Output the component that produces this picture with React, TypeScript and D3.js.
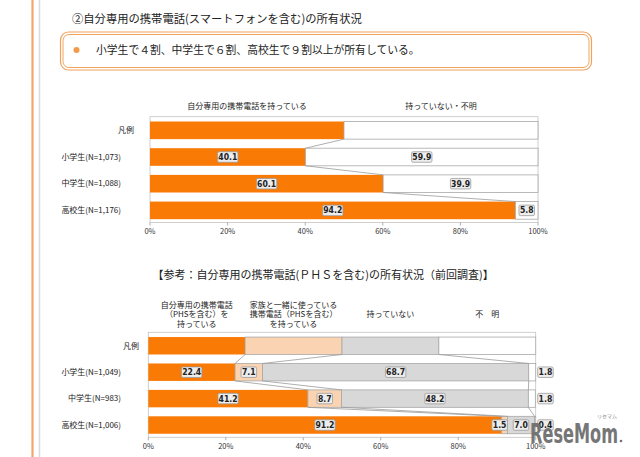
import React from "react";
import * as d3 from "d3";

const W = 640;
const H = 457;

const pageTitle = "②自分専用の携帯電話(スマートフォンを含む)の所有状況";
const summaryText = "小学生で４割、中学生で６割、高校生で９割以上が所有している。";

// Chart 1
const cats1 = ["凡例", "小学生(N=1,073)", "中学生(N=1,088)", "高校生(N=1,176)"];
const own1 = [50, 40.1, 60.1, 94.2];
const notOwn1 = [50, 59.9, 39.9, 5.8];
const legend1 = ["自分専用の携帯電話を持っている", "持っていない・不明"];

// Chart 2
const chart2Title = "【参考：自分専用の携帯電話(ＰＨＳを含む)の所有状況（前回調査)】";
const cats2 = ["凡例", "小学生(N=1,049)", "中学生(N=983)", "高校生(N=1,006)"];
const personal2 = [25, 22.4, 41.2, 91.2];
const shared2 = [25, 7.1, 8.7, 1.5];
const none2 = [25, 68.7, 48.2, 7.0];
const unknown2 = [25, 1.8, 1.8, 0.4];
const legend2: string[][] = [
  ["自分専用の携帯電話", "（PHSを含む）を", "持っている"],
  ["家族と一緒に使っている", "携帯電話（PHSを含む）", "を持っている"],
  ["持っていない"],
  ["不　明"],
];

const ticks = [0, 20, 40, 60, 80, 100];
const tickLabels = ["0%", "20%", "40%", "60%", "80%", "100%"];

const ORANGE = "#F97A05";
const PEACH = "#FAD3B2";
const GRAY = "#D8D8D8";
const WHITE = "#FFFFFF";
const FONT = "'Noto Sans CJK JP', 'Noto Sans', sans-serif";

function textW(s: string, fs: number) {
  let w = 0;
  for (const c of s) w += c === "." ? fs * 0.28 : fs * 0.56;
  return w;
}

function ValueLabel({ cx, cy, v, anchorRight }: { cx: number; cy: number; v: number; anchorRight?: boolean }) {
  const s = v.toFixed(1);
  const fs = 8.6;
  const bw = textW(s, fs) + 3.5;
  const bh = 10.5;
  const x = anchorRight ? cx - bw : cx - bw / 2;
  return (
    <g>
      <rect x={x} y={cy - bh / 2} width={bw} height={bh} rx={1.5} fill="#ededed" stroke="#9c9c9c" strokeWidth={0.8} />
      <text x={x + bw / 2} y={cy} dy="0.35em" textAnchor="middle" fontSize={fs} fontWeight={700} fill="#222" fontFamily="'DejaVu Sans Condensed', 'DejaVu Sans', sans-serif">
        {s}
      </text>
    </g>
  );
}

function Axis({ x, yBottom }: { x: d3.ScaleLinear<number, number>; yBottom: number }) {
  return (
    <g>
      {ticks.map((t, i) => (
        <g key={t}>
          <line x1={x(t)} x2={x(t)} y1={yBottom} y2={yBottom + 3} stroke="#999" strokeWidth={0.8} />
          <text x={x(t)} y={yBottom + 9} dy="0.35em" textAnchor="middle" fontSize={7.5} fill="#333" fontFamily={FONT}>
            {tickLabels[i]}
          </text>
        </g>
      ))}
    </g>
  );
}

export default function App() {
  // Chart 1 scales
  const x1 = d3.scaleLinear().domain([0, 100]).range([150, 538]);
  const y1 = d3.scaleBand<string>().domain(cats1).range([116.7, 224]).paddingInner(0.34).paddingOuter(0.18);
  const bw1 = y1.bandwidth();
  const frame1Bottom = 222.5;

  // Chart 2 scales
  const x2 = d3.scaleLinear().domain([0, 100]).range([148.3, 535.7]);
  const y2 = d3.scaleBand<string>().domain(cats2).range([332.3, 438.5]).paddingInner(0.34).paddingOuter(0.18);
  const bw2 = y2.bandwidth();
  const frame2Bottom = 437.3;

  const series2 = [personal2, shared2, none2, unknown2];
  const colors2 = [ORANGE, PEACH, GRAY, WHITE];
  const rows2 = cats2.map((c, i) => {
    let acc = 0;
    return series2.map((s) => {
      const start = acc;
      acc += s[i];
      return { start, end: acc, v: s[i] };
    });
  });

  return (
    <svg width={W} height={H} style={{ position: "absolute", left: 0, top: 0 }} fontFamily={FONT}>
      <rect width={W} height={H} fill="#fff" />
      {/* left decoration */}
      <line x1={32.5} x2={32.5} y1={0} y2={H} stroke="#F3A766" strokeWidth={2.2} />
      <line x1={39.5} x2={39.5} y1={0} y2={H} stroke="#dcdcdc" strokeWidth={1.5} />

      {/* title */}
      <text x={72} y={19} dy="0.35em" fontSize={11.3} fill="#222">{pageTitle}</text>

      {/* summary box */}
      <rect x={60.5} y={32} width={531} height={38} rx={8} fill="none" stroke="#F1A25C" strokeWidth={1.2} />
      <rect x={63} y={34.5} width={526} height={33} rx={6} fill="none" stroke="#F1A25C" strokeWidth={1} />
      <circle cx={76.5} cy={50} r={3} fill="#F39A4A" />
      <text x={96} y={50} dy="0.35em" fontSize={10.8} fill="#222">{summaryText}</text>

      {/* Chart 1 */}
      <text x={x1(25)} y={106} dy="0.35em" textAnchor="middle" fontSize={8} fill="#222">{legend1[0]}</text>
      <text x={x1(75)} y={106} dy="0.35em" textAnchor="middle" fontSize={8} fill="#222">{legend1[1]}</text>
      <rect x={x1(0)} y={116.7} width={x1(100) - x1(0)} height={frame1Bottom - 116.7} fill="none" stroke="#c4c4c4" strokeWidth={0.8} />
      {cats1.map((c, i) => {
        const y = y1(c)!;
        return (
          <g key={c}>
            <rect x={x1(0)} y={y} width={x1(own1[i]) - x1(0)} height={bw1} fill={ORANGE} />
            <rect x={x1(own1[i])} y={y} width={x1(own1[i] + notOwn1[i]) - x1(own1[i])} height={bw1} fill={WHITE} stroke="#a8a8a8" strokeWidth={0.8} />
            <text x={i === 0 ? 134 : 121} y={y + bw1 / 2} dy="0.35em" textAnchor="end" fontSize={8} fill="#222">{c}</text>
          </g>
        );
      })}
      {cats1.slice(0, -1).map((c, i) => (
        <line key={"c1" + i} x1={x1(own1[i])} y1={y1(c)! + bw1} x2={x1(own1[i + 1])} y2={y1(cats1[i + 1])!} stroke="#9a9a9a" strokeWidth={0.8} />
      ))}
      {cats1.slice(1).map((c, j) => {
        const i = j + 1;
        const cy = y1(c)! + bw1 / 2;
        return (
          <g key={"l1" + c}>
            <ValueLabel cx={x1(own1[i] / 2)} cy={cy} v={own1[i]} />
            <ValueLabel cx={x1(own1[i] + notOwn1[i] / 2)} cy={cy} v={notOwn1[i]} />
          </g>
        );
      })}
      <Axis x={x1} yBottom={frame1Bottom} />

      {/* Chart 2 */}
      <text x={152.5} y={275} dy="0.35em" fontSize={11} fill="#222">{chart2Title}</text>
      {legend2.map((lines, k) => {
        const cx = x2(25 * k + 12.5);
        const lh = 9.5;
        const y0 = 314.5 - ((lines.length - 1) * lh) / 2;
        return (
          <g key={"lg" + k}>
            {lines.map((ln, j) => (
              <text key={j} x={cx} y={y0 + j * lh} dy="0.35em" textAnchor="middle" fontSize={8} fill="#222">{ln}</text>
            ))}
          </g>
        );
      })}
      <rect x={x2(0)} y={332.3} width={x2(100) - x2(0)} height={frame2Bottom - 332.3} fill="none" stroke="#c4c4c4" strokeWidth={0.8} />
      {cats2.map((c, i) => {
        const y = y2(c)!;
        return (
          <g key={c}>
            {rows2[i].map((seg, k) => (
              <rect key={k} x={x2(seg.start)} y={y} width={Math.max(0, x2(Math.min(seg.end, 100)) - x2(seg.start))} height={bw2} fill={colors2[k]} stroke={k === 0 ? "none" : "#a8a8a8"} strokeWidth={0.8} />
            ))}
            <text x={i === 0 ? 139 : 121} y={y + bw2 / 2} dy="0.35em" textAnchor="end" fontSize={8} fill="#222">{c}</text>
          </g>
        );
      })}
      {cats2.slice(0, -1).map((c, i) =>
        [0, 1, 2].map((k) => (
          <line key={"c2" + i + k} x1={x2(rows2[i][k].end)} y1={y2(c)! + bw2} x2={x2(rows2[i + 1][k].end)} y2={y2(cats2[i + 1])!} stroke="#9a9a9a" strokeWidth={0.8} />
        ))
      )}
      {cats2.slice(1).map((c, j) => {
        const i = j + 1;
        const cy = y2(c)! + bw2 / 2;
        return (
          <g key={"l2" + c}>
            {rows2[i].map((seg, k) => {
              if (k === 3) {
                const bwid = textW(seg.v.toFixed(1), 8.6) + 3.5;
                return <ValueLabel key={k} cx={x2(100) + 2 + bwid / 2} cy={cy} v={seg.v} />;
              }
              const narrow = x2(seg.end) - x2(seg.start) < 14;
              if (narrow) return <ValueLabel key={k} cx={x2(seg.end)} cy={cy} v={seg.v} anchorRight />;
              return <ValueLabel key={k} cx={x2((seg.start + seg.end) / 2)} cy={cy} v={seg.v} />;
            })}
          </g>
        );
      })}
      <Axis x={x2} yBottom={frame2Bottom} />

      {/* watermark */}
      <text x={597} y={418} fontSize={5} fill="#8a8a8a" fontFamily={FONT}>リセマム</text>
      <text x={530} y={443} fontSize={26} fontWeight={700} fill="#6f6f6f" textLength={88} lengthAdjust="spacingAndGlyphs" fontFamily="'DejaVu Sans Condensed', 'DejaVu Sans', sans-serif" opacity={0.95}>ReseMom</text>
      <circle cx={621} cy={441} r={1.3} fill="#6f6f6f" />
    </svg>
  );
}
